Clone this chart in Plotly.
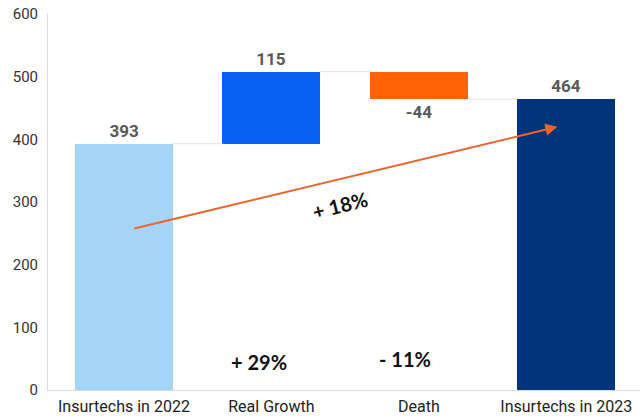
import plotly.graph_objects as go

# Insurtech count bridge 2022 -> 2023
categories = ["Insurtechs in 2022", "Real Growth", "Death", "Insurtechs in 2023"]
changes = [393, 115, -44, 464]
kinds = ["total", "delta", "delta", "total"]
bar_colors = ["#a4d5f6", "#0a62f2", "#ff6304", "#00347b"]
pct_labels = ["+ 29%", "- 11%"]
overall_label = "+ 18%"

# bases for floating bars
bases, levels = [], []
running = 0
for v, k in zip(changes, kinds):
    if k == "total":
        bases.append(0)
        running = v
    else:
        bases.append(running)
        running += v
    levels.append(running)

x_idx = list(range(len(categories)))
bar_w = 0.665

fig = go.Figure()
fig.add_trace(go.Bar(
    x=x_idx, y=changes, base=bases, width=bar_w,
    marker=dict(color=bar_colors, line=dict(width=0)),
    text=[str(v) for v in changes], textposition="outside",
    textfont=dict(family="Roboto", size=17, color="#595959", weight="bold"),
    cliponaxis=False, hoverinfo="skip",
))

# connector lines between consecutive bars
shapes = []
for i in range(len(categories) - 1):
    shapes.append(dict(
        type="line", xref="x", yref="y",
        x0=i + bar_w / 2, x1=i + 1 - bar_w / 2,
        y0=levels[i], y1=levels[i],
        line=dict(color="#e3e3e3", width=1),
    ))

pct_font = dict(family="Lato", size=20, color="#111111", weight="bold")
annotations = [
    # overall growth arrow
    dict(x=2.94, y=420, ax=0.06, ay=257, xref="x", yref="y", axref="x", ayref="y",
         showarrow=True, arrowhead=2, arrowsize=1.2, arrowwidth=2, arrowcolor="#f0632a", text=""),
    dict(x=1.466, y=295, xref="x", yref="y", text=overall_label, showarrow=False,
         textangle=-14, font=pct_font),
    dict(x=0.916, y=45, xref="x", yref="y", text=pct_labels[0], showarrow=False, font=pct_font),
    dict(x=1.907, y=50, xref="x", yref="y", text=pct_labels[1], showarrow=False, font=pct_font),
]

fig.update_layout(
    width=643, height=418,
    margin=dict(l=48, r=3, t=14, b=28),
    paper_bgcolor="white", plot_bgcolor="white",
    showlegend=False, bargap=0,
    shapes=shapes, annotations=annotations,
    xaxis=dict(
        tickmode="array", tickvals=x_idx, ticktext=categories,
        range=[-0.515, 3.5], showgrid=False, zeroline=False,
        showline=True, linecolor="#dcdcdc", linewidth=1, ticks="",
        tickfont=dict(family="Roboto", size=16, color="#222222"),
        ticklabelstandoff=2,
    ),
    yaxis=dict(
        range=[0, 600], dtick=100, showgrid=False, zeroline=False,
        showline=True, linecolor="#dcdcdc", linewidth=1, ticks="",
        tickfont=dict(family="Roboto", size=15, color="#333333"),
        ticklabelstandoff=6,
    ),
)

fig.write_html("out.html")
